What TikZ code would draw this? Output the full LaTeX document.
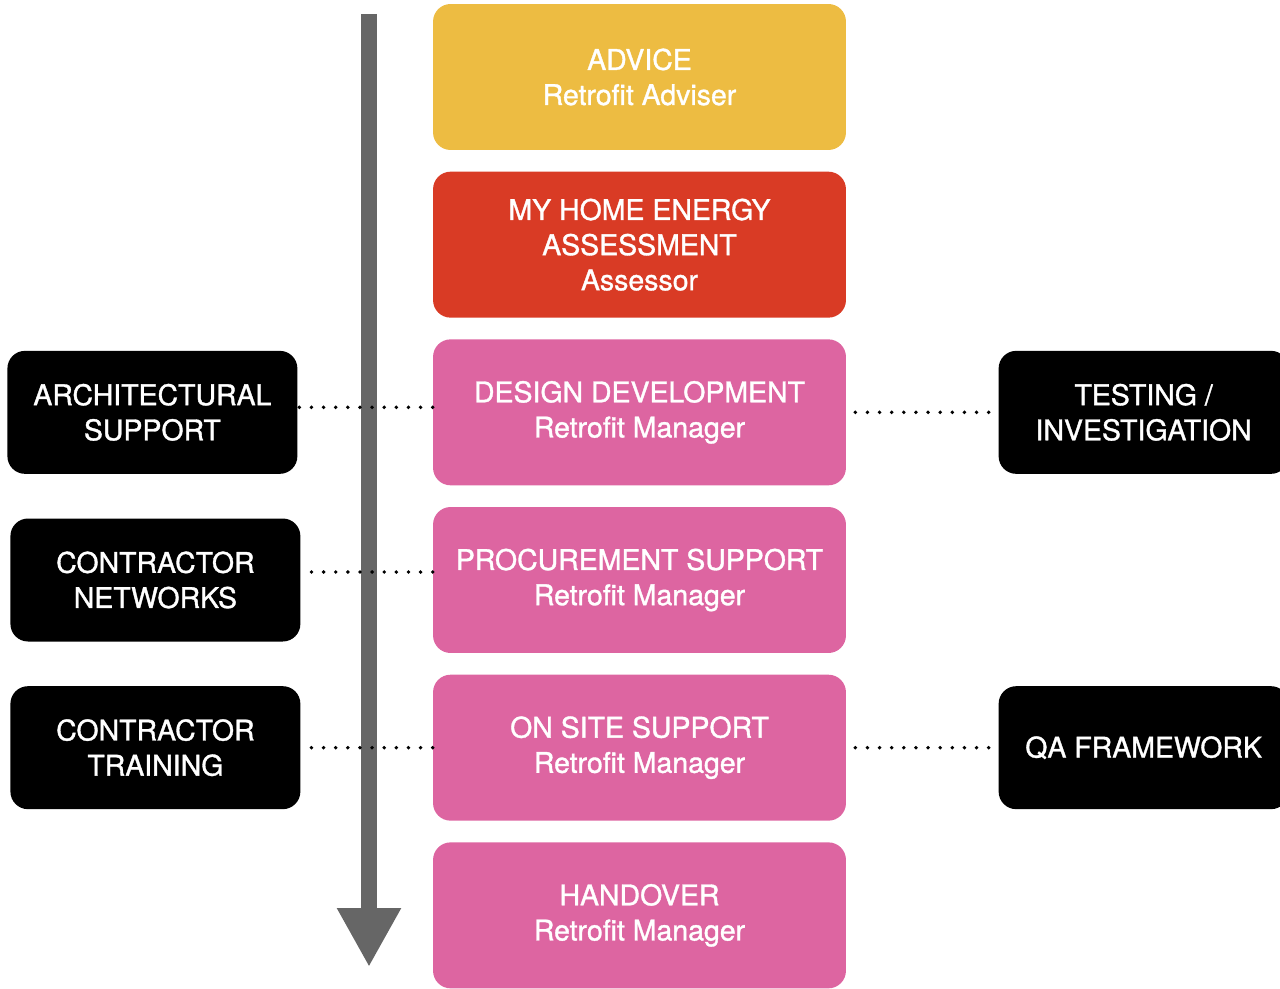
\documentclass[tikz,border=0pt]{standalone}
\usepackage{fontspec}
\setmainfont{TeX Gyre Heros}
\newfontfamily\boxfont{TeX Gyre Heros}[FakeBold=1.2]
\usetikzlibrary{arrows.meta, positioning}

\definecolor{advice}{RGB}{237,188,66}
\definecolor{assess}{RGB}{217,59,37}
\definecolor{manager}{RGB}{221,101,161}
\definecolor{flowgrey}{RGB}{102,102,102}

\begin{document}
\begin{tikzpicture}[x=0.02cm,y=-0.02cm,node distance=0.42cm,
 stage/.style={rectangle,rounded corners=10pt,minimum width=8.26cm,minimum height=2.92cm,
  inner sep=0pt,align=center,text=white,font=\boxfont\fontsize{16.2}{20}\selectfont},
 side/.style={rectangle,fill=black,rounded corners=10pt,minimum width=5.8cm,minimum height=2.46cm,
  inner sep=0pt,align=center,text=white,font=\boxfont\fontsize{16.2}{20}\selectfont},
 link/.style={line width=2.2pt,line cap=round,dash pattern=on 0pt off 6.9pt},
 flow/.style={draw=flowgrey,line width=0.32cm,-{Triangle[length=1.18cm,width=1.2cm,fill=flowgrey]}}]

  \useasboundingbox (0,0) rectangle (1280,989);

  % time line
  \coordinate (start) at (369,14);
  \coordinate (finish) at (369,967);
  \draw[flow] (start) -- (finish);

  % stages
  \node[stage,fill=advice] (advice) at (639.5,77) {ADVICE\\Retrofit Adviser};
  \node[stage,fill=assess] (assess) [below=of advice] {MY HOME ENERGY\\ASSESSMENT\\Assessor};
  \node[stage,fill=manager] (design) [below=of assess] {DESIGN DEVELOPMENT\\Retrofit Manager};
  \node[stage,fill=manager] (procure) [below=of design] {PROCUREMENT SUPPORT\\Retrofit Manager};
  \node[stage,fill=manager] (onsite) [below=of procure] {ON SITE SUPPORT\\Retrofit Manager};
  \node[stage,fill=manager] (handover) [below=of onsite] {HANDOVER\\Retrofit Manager};

  % support
  \node[side] (arch) [left=2.7cm of design] {ARCHITECTURAL\\SUPPORT};
  \node[side] (networks) [left=2.64cm of procure] {CONTRACTOR\\NETWORKS};
  \node[side] (training) [left=2.64cm of onsite] {CONTRACTOR\\TRAINING};
  \node[side] (testing) [right=3.04cm of design] {TESTING /\\INVESTIGATION};
  \node[side] (qa) [right=3.04cm of onsite] {QA FRAMEWORK};

  \draw[link] ([yshift=0.1cm]arch.east -| design.west) -- ([yshift=0.1cm]arch.east);
  \draw[link] ([yshift=0.16cm]networks.east -| procure.west) -- ([yshift=0.16cm]networks.east);
  \draw[link] (training.east -| onsite.west) -- (training.east);
  \draw[link] ([xshift=0.18cm]design.east) -- ([xshift=-0.16cm]design.east -| testing.west);
  \draw[link] ([xshift=0.18cm]onsite.east) -- ([xshift=-0.16cm]onsite.east -| qa.west);
\end{tikzpicture}
\end{document}
